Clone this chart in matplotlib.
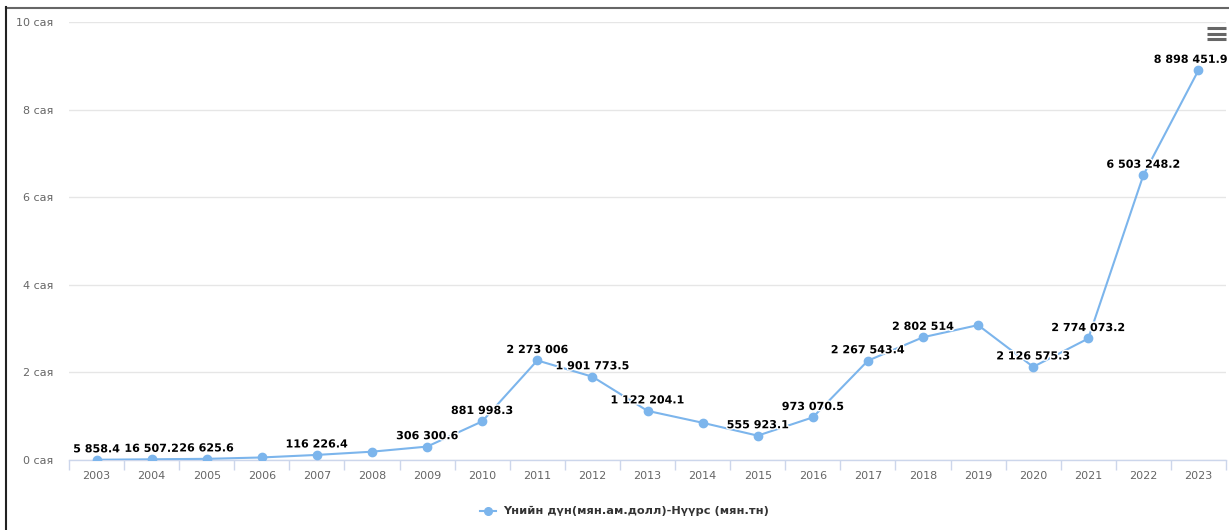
import matplotlib
matplotlib.use("Agg")
import matplotlib.pyplot as plt
import matplotlib.patheffects as pe
from matplotlib.lines import Line2D
from matplotlib.ticker import FixedLocator, FuncFormatter

# Нүүрсний экспортын үнийн дүн, жилээр
years = [str(y) for y in range(2003, 2024)]
values = [5858.4, 16507.2, 26625.6, 58000, 116226.4, 190000, 306300.6,
          881998.3, 2273006, 1901773.5, 1122204.1, 850000, 555923.1,
          973070.5, 2267543.4, 2802514, 3080000, 2126575.3, 2774073.2,
          6503248.2, 8898451.9]
# давхцаж харагдахгүй шошгууд
show_label = [True, True, True, False, True, False, True,
              True, True, True, True, False, True,
              True, True, True, False, True, True,
              True, True]
series_name = "Үнийн дүн(мян.ам.долл)-Нүүрс (мян.тн)"

LINE = "#7cb5ec"
W, H = 1229, 530

plt.rcParams["font.family"] = ["DejaVu Sans"]
fig = plt.figure(figsize=(W / 100, H / 100), dpi=100)
ax = fig.add_axes([69 / W, 1 - 460 / H, (1226 - 69) / W, (460 - 22) / H])

x = list(range(len(years)))
ax.plot(x, values, color=LINE, lw=1.5, marker="o", ms=6, mec=LINE, zorder=3)


def fmt(v):
    s = f"{int(v):,}" if float(v).is_integer() else f"{v:,.1f}"
    return s.replace(",", " ")


labels = []
for xi, v, show in zip(x, values, show_label):
    if not show:
        continue
    t = ax.annotate(fmt(v), (xi, v), xytext=(0, 7.5), textcoords="offset points",
                    ha="center", va="center", fontsize=8, fontweight="bold",
                    color="black", zorder=5, annotation_clip=False,
                    path_effects=[pe.withStroke(linewidth=2, foreground="white")])
    labels.append(t)

ax.set_xlim(-0.5, len(years) - 0.5)
ax.set_ylim(0, 10_000_000)
ax.set_yticks(range(0, 10_000_001, 2_000_000))
ax.yaxis.set_major_formatter(FuncFormatter(lambda v, p: f"{int(v / 1e6)} сая"))
ax.set_xticks(x)
ax.set_xticklabels(years)
ax.xaxis.set_minor_locator(FixedLocator([i - 0.5 for i in range(len(years) + 1)]))

ax.tick_params(axis="y", length=0, pad=11, labelsize=8, labelcolor="#666666")
ax.tick_params(axis="x", which="major", length=0, pad=8, labelsize=8, labelcolor="#666666")
ax.tick_params(axis="x", which="minor", length=7.2, width=1, color="#ccd6eb")

ax.grid(axis="y", color="#e6e6e6", lw=1)
ax.set_axisbelow(True)
for side in ("top", "right", "left"):
    ax.spines[side].set_visible(False)
ax.spines["bottom"].set_color("#ccd6eb")
ax.spines["bottom"].set_linewidth(1)

# шошго зургийн баруун ирмэгээс гарвал дотогш шилжүүлэх
fig.canvas.draw()
r = fig.canvas.get_renderer()
for t in labels:
    bb = t.get_window_extent(r)
    if bb.x1 > W - 1:
        dx = (bb.x1 - (W - 1)) * 72 / 100
        ox, oy = t.xyann
        t.xyann = (ox - dx, oy)

# тайлбар
ly = 1 - 511 / H
fig.add_artist(Line2D([480 / W, 496 / W], [ly, ly], color=LINE, lw=1.5))
fig.add_artist(Line2D([488 / W], [ly], color=LINE, marker="o", ms=5.5, lw=0))
fig.text(503 / W, ly, series_name, fontsize=8.2, fontweight="bold",
         color="#333333", va="center", ha="left")

# цэсний тэмдэг
for yy in (28, 33.5, 39):
    fig.add_artist(Line2D([1207 / W, 1226 / W], [1 - yy / H] * 2,
                          color="#666666", lw=2.2, solid_capstyle="butt"))

# хүрээ
fig.add_artist(Line2D([6 / W, 1], [1 - 7.5 / H] * 2, color="#666666", lw=1.5))
fig.add_artist(Line2D([6 / W] * 2, [0, 1 - 7 / H], color="#222222", lw=1.5))

fig.savefig("out.png", dpi=100)
